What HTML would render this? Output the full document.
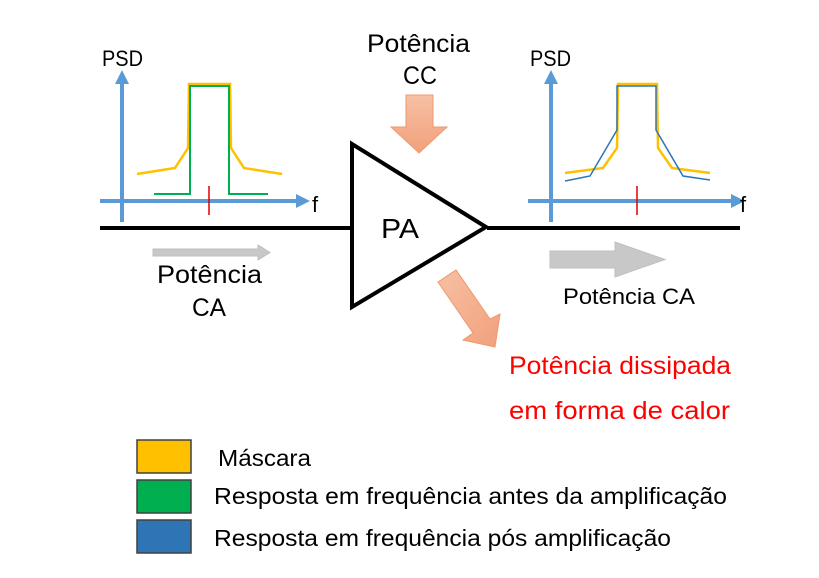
<!DOCTYPE html>
<html><head><meta charset="utf-8"><style>
html,body{margin:0;padding:0;background:#fff;width:819px;height:578px;overflow:hidden}
svg{display:block}
text{font-family:"Liberation Sans",sans-serif;fill:#000}
</style></head><body>
<svg width="819" height="578" viewBox="0 0 819 578">
<defs>
<linearGradient id="og" x1="0" y1="0" x2="0" y2="1"><stop offset="0" stop-color="#f7c0a4"/><stop offset="1" stop-color="#f2a07c"/></linearGradient>
<linearGradient id="og2" x1="0" y1="0" x2="1" y2="1"><stop offset="0" stop-color="#f7c0a4"/><stop offset="1" stop-color="#f2a07c"/></linearGradient>
</defs>
<line x1="100" y1="228" x2="352" y2="228" stroke="#000" stroke-width="4"/>
<line x1="487" y1="228" x2="740" y2="228" stroke="#000" stroke-width="4"/>
<polygon points="352,144 352,307 486,227" fill="#fff" stroke="#000" stroke-width="4"/>
<text x="381" y="238" font-size="28" textLength="38" lengthAdjust="spacingAndGlyphs">PA</text>

<g>
<line x1="122" y1="222" x2="122" y2="82" stroke="#5b9bd5" stroke-width="4"/>
<polygon points="115,84 129,84 122,70" fill="#5b9bd5"/>
<line x1="100" y1="201" x2="298" y2="201" stroke="#5b9bd5" stroke-width="4"/>
<polygon points="296,194 296,208 310,201" fill="#5b9bd5"/>
<text x="102" y="66" font-size="22" textLength="41" lengthAdjust="spacingAndGlyphs">PSD</text>
<text x="312" y="212" font-size="22">f</text>
<polyline points="137,174 175,168 188,148 189,84 230,84 231,148 244,168 282,174" fill="none" stroke="#ffc000" stroke-width="2.5"/>
<polyline points="154,194 190,194 190,86 229,86 229,194 268,194" fill="none" stroke="#00b050" stroke-width="2"/>
<line x1="209" y1="186" x2="209" y2="215" stroke="#e00000" stroke-width="1.5"/>
</g>

<g>
<line x1="551" y1="222" x2="551" y2="82" stroke="#5b9bd5" stroke-width="4"/>
<polygon points="544,84 558,84 551,70" fill="#5b9bd5"/>
<line x1="528" y1="201" x2="733" y2="201" stroke="#5b9bd5" stroke-width="4"/>
<polygon points="731,194 731,208 745,201" fill="#5b9bd5"/>
<text x="530" y="66" font-size="22" textLength="41" lengthAdjust="spacingAndGlyphs">PSD</text>
<text x="740" y="212" font-size="22">f</text>
<polyline points="565,173 603,168 617,148 618,84 657,84 658,148 672,168 710,173" fill="none" stroke="#ffc000" stroke-width="2.5"/>
<polyline points="565,181 590,176 617,130 617,86 656,86 656,130 683,176 710,180" fill="none" stroke="#2e75b6" stroke-width="1.5"/>
<line x1="637" y1="186" x2="637" y2="215" stroke="#e00000" stroke-width="1.5"/>
</g>

<polygon points="406,95 433,95 433,127 447,127 419,153 391,127 406,127" fill="url(#og)" stroke="#ed9a6c" stroke-width="1"/>
<text x="367" y="52" font-size="25" textLength="103" lengthAdjust="spacingAndGlyphs">Potência</text>
<text x="403" y="84" font-size="25" textLength="34" lengthAdjust="spacingAndGlyphs">CC</text>

<polygon points="438,282 456,270 490,319 500,314 495,347 463,340 473,333" fill="url(#og2)" stroke="#ed9a6c" stroke-width="1"/>
<text x="509" y="374" font-size="25" textLength="222" lengthAdjust="spacingAndGlyphs" style="fill:#ff0000">Potência dissipada</text>
<text x="509" y="419" font-size="25" textLength="221" lengthAdjust="spacingAndGlyphs" style="fill:#ff0000">em forma de calor</text>

<polygon points="153,249 258,249 258,245 270,252.5 258,260 258,256 153,256" fill="#c8c8c8" stroke="#bfbfbf" stroke-width="1"/>
<text x="157" y="283" font-size="25" textLength="105" lengthAdjust="spacingAndGlyphs">Potência</text>
<text x="192" y="316" font-size="25" textLength="34" lengthAdjust="spacingAndGlyphs">CA</text>
<polygon points="550,251 615,251 615,242 665,259.5 615,277 615,268 550,268" fill="#c8c8c8" stroke="#bfbfbf" stroke-width="1"/>
<text x="563" y="304" font-size="22" textLength="132" lengthAdjust="spacingAndGlyphs">Potência CA</text>

<g>
<rect x="137" y="440" width="54" height="33" fill="#ffc000" stroke="#404040" stroke-width="1.5"/>
<rect x="137" y="480" width="54" height="33" fill="#00b050" stroke="#404040" stroke-width="1.5"/>
<rect x="137" y="520" width="54" height="33" fill="#2e75b6" stroke="#404040" stroke-width="1.5"/>
<text x="218" y="466" font-size="23" textLength="93" lengthAdjust="spacingAndGlyphs">Máscara</text>
<text x="214" y="504" font-size="23" textLength="513" lengthAdjust="spacingAndGlyphs">Resposta em frequência antes da amplificação</text>
<text x="214" y="546" font-size="23" textLength="457" lengthAdjust="spacingAndGlyphs">Resposta em frequência pós amplificação</text>
</g>
</svg>
</body></html>
